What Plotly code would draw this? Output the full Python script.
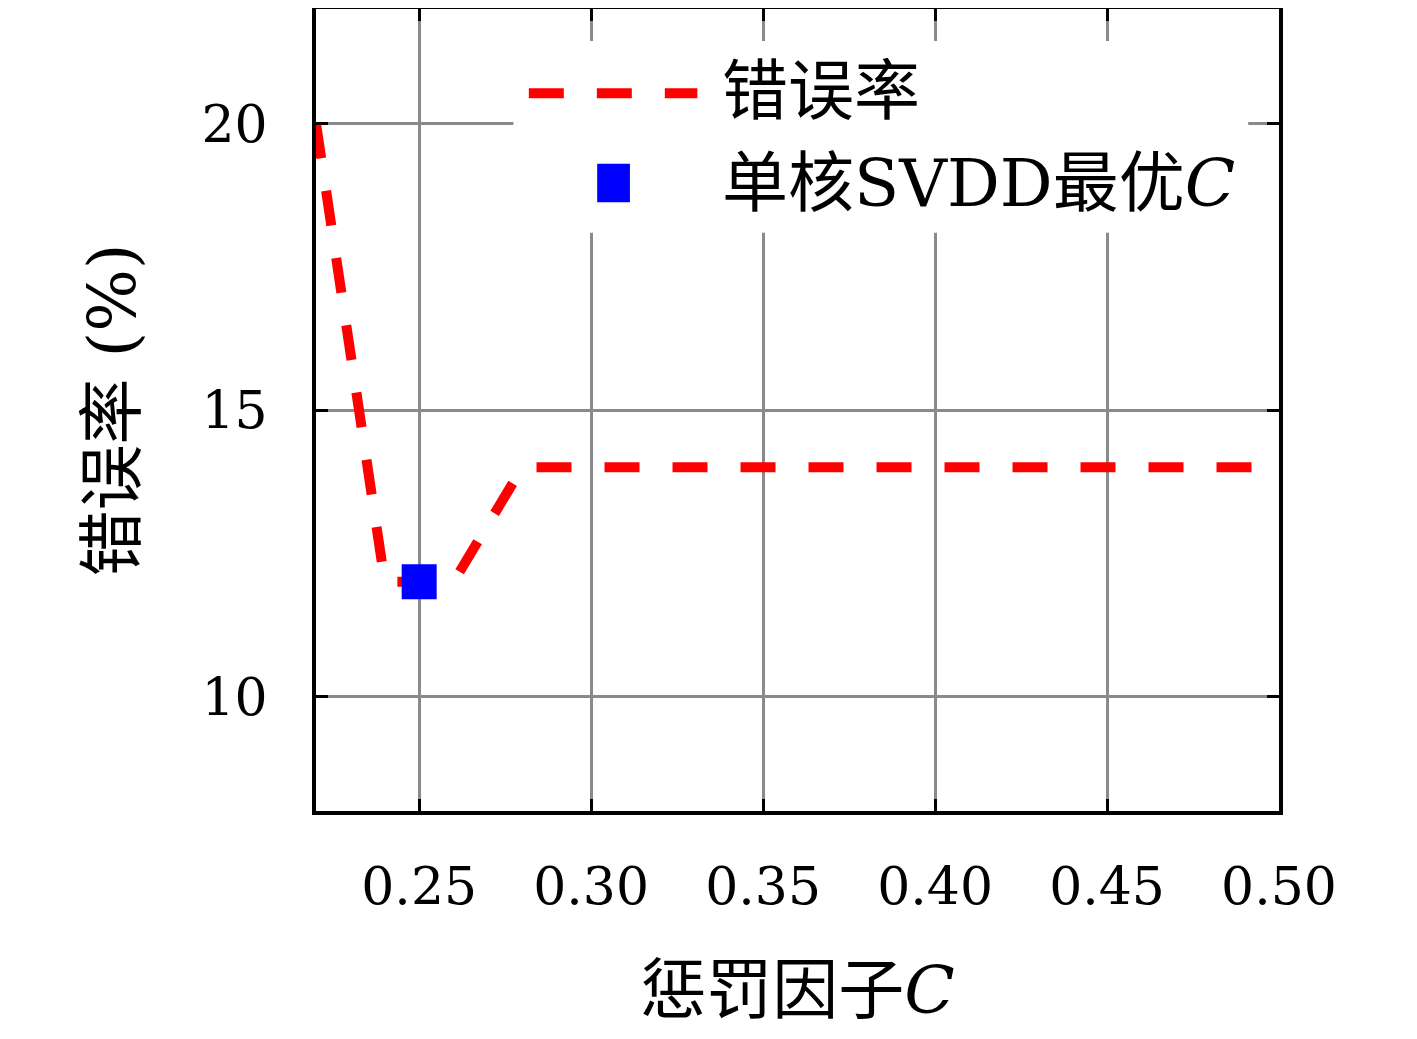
import plotly.graph_objects as go

# ---- data ----
penalty_c = [0.22, 0.23, 0.24, 0.25, 0.26, 0.27, 0.28, 0.30, 0.35, 0.40, 0.45, 0.50]
error_rate = [20, 16, 12, 12, 12, 13, 14, 14, 14, 14, 14, 14]
best_c = [0.25]
best_err = [12]
x_ticks = [0.25, 0.30, 0.35, 0.40, 0.45, 0.50]
x_ticktext = ["0.25", "0.30", "0.35", "0.40", "0.45", "0.50"]
y_ticks = [10, 15, 20]
series_names = ["错误率", "单核SVDD最优<i>C</i>"]

FONT = "DejaVu Serif, Noto Sans CJK SC, serif"
TICK_FS = 52
TEXT_FS = 66

fig = go.Figure()
fig.add_trace(go.Scatter(
    x=penalty_c, y=error_rate, mode="lines", name=series_names[0],
    line=dict(color="#ff0000", width=10, dash="35px,33px"),
    showlegend=False,
))
fig.add_trace(go.Scatter(
    x=best_c, y=best_err, mode="markers", name=series_names[1],
    marker=dict(symbol="square", size=35, color="#0000ff"),
    showlegend=False,
))

# manual legend (paper coordinates of plot area)
fig.add_shape(type="rect", xref="paper", yref="paper",
              x0=0.205, x1=0.968, y0=0.721, y1=0.960,
              fillcolor="white", line=dict(width=0), layer="above")
fig.add_shape(type="line", xref="paper", yref="paper",
              x0=0.221, x1=0.396, y0=0.895, y1=0.895,
              line=dict(color="#ff0000", width=10, dash="35px,33px"), layer="above")
fig.add_shape(type="rect", xref="paper", yref="paper",
              x0=0.292, x1=0.326, y0=0.759, y1=0.807,
              fillcolor="#0000ff", line=dict(width=0), layer="above")
fig.add_annotation(xref="paper", yref="paper", x=0.42, y=0.897,
                   text=series_names[0], showarrow=False, xanchor="left", yanchor="middle",
                   font=dict(family=FONT, size=TEXT_FS, color="black"))
fig.add_annotation(xref="paper", yref="paper", x=0.42, y=0.783,
                   text=series_names[1], showarrow=False, xanchor="left", yanchor="middle",
                   font=dict(family=FONT, size=TEXT_FS, color="black"))

axis_common = dict(
    showline=True, linecolor="black", linewidth=4, mirror="ticks",
    ticks="inside", ticklen=12, tickwidth=3, tickcolor="black",
    showgrid=True, gridcolor="#8a8a8a", gridwidth=3, zeroline=False,
    tickfont=dict(family=FONT, size=TICK_FS, color="black"),
)

fig.update_xaxes(
    range=[0.22, 0.50], tickvals=x_ticks, ticktext=x_ticktext,
    ticklabelstandoff=27,
    title=dict(text="惩罚因子<i>C</i>", font=dict(family=FONT, size=TEXT_FS, color="black"), standoff=52),
    **axis_common,
)
fig.update_yaxes(
    range=[8, 22], tickvals=y_ticks,
    ticklabelstandoff=34,
    title=dict(text="错误率 (%)", font=dict(family=FONT, size=TEXT_FS, color="black"), standoff=45),
    **axis_common,
)

fig.update_layout(
    width=1417, height=1039,
    margin=dict(l=308, r=146, t=1, b=236, autoexpand=False),
    paper_bgcolor="white", plot_bgcolor="white",
    font=dict(family=FONT, size=TEXT_FS, color="black"),
    showlegend=False,
)

fig.write_html("out.html")
